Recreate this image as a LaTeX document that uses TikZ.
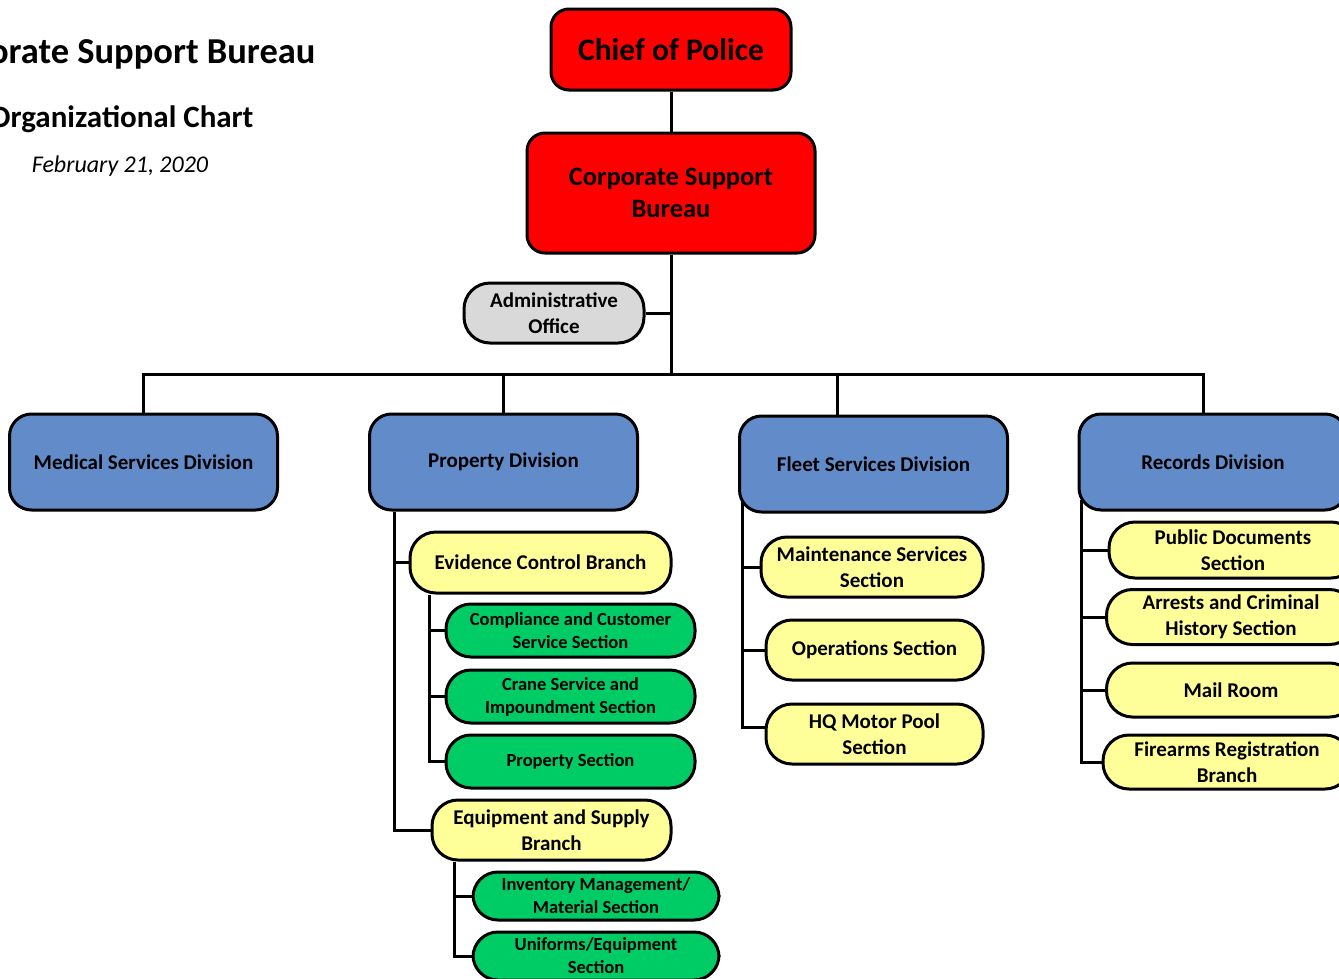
\documentclass[tikz,border=0pt]{standalone}
\usepackage{fontspec}
\setmainfont{Carlito}
\usetikzlibrary{positioning,calc}

\definecolor{chiefred}{RGB}{255,0,0}
\definecolor{divblue}{RGB}{98,139,202}
\definecolor{branchyellow}{RGB}{255,255,153}
\definecolor{sectgreen}{RGB}{0,204,102}
\definecolor{admingray}{RGB}{217,217,217}

\begin{document}
\begin{tikzpicture}[
    x=1pt, y=-1pt,
    every node/.style={font=\bfseries\fontsize{21}{25.5}\selectfont},
    box/.style={draw, line width=3pt, align=center, inner sep=0pt},
    topbox/.style={box, fill=chiefred, rounded corners=18pt},
    division/.style={box, fill=divblue, rounded corners=22pt, minimum width=268pt, minimum height=96pt},
    branch/.style={box, fill=branchyellow, rounded corners=26pt},
    section/.style={box, fill=sectgreen, rounded corners=25pt, minimum width=249pt, minimum height=53pt,
        font=\bfseries\fontsize{18.5}{23}\selectfont},
    conn/.style={line width=3pt},
]
\useasboundingbox (0,0) rectangle (1339,978);
\clip (0,0) rectangle (1339,978);

% Title block (top left, cut by the page edge)
\node[anchor=east, font=\bfseries\fontsize{36.5}{42}\selectfont] (title) at (319,54) {Corporate Support Bureau};
\node[anchor=east, font=\bfseries\fontsize{31}{36}\selectfont] (subtitle) at (257,119) {Organizational Chart};
\node[font=\itshape\fontsize{24}{28}\selectfont] (date) at (120,166) {February 21, 2020};

% Top of the chart
\node[topbox, minimum width=240pt, minimum height=81pt, font=\bfseries\fontsize{31.5}{38}\selectfont] (chief) at (671,49.5) {Chief of Police};
\node[topbox, minimum width=288pt, minimum height=120pt, font=\bfseries\fontsize{26.5}{32}\selectfont] (csb) at (671,193) {Corporate Support\\Bureau};
\draw[conn] (chief) -- (csb);

\node[box, fill=admingray, rounded corners=26pt, minimum width=180pt, minimum height=60pt] (admin) at (554,313) {Administrative\\Office};
\coordinate (bus) at (671,374);
\draw[conn] (csb) -- (bus);
\draw[conn] (admin.east) -- (admin.east -| bus);

% Divisions
\node[division] (medical) at (143.5,462) {Medical Services Division};
\node[division] (property) at (503.5,462) {Property Division};
\node[division] (fleet) at (873.5,464) {Fleet Services Division};
\node[division] (records) at (1213,462) {Records Division};

\draw[conn] (medical.north) |- (bus) -| ([xshift=-10pt]records.north);
\draw[conn] (property.north) -- (property.north |- bus);
\draw[conn] ([xshift=-36pt]fleet.north) -- ([xshift=-36pt]fleet.north |- bus);

% Property Division
\node[branch, minimum width=261pt, minimum height=61pt] (evidence) at (540.5,562.5) {Evidence Control Branch};
\node[section] (compliance) at (570.5,630.5) {Compliance and Customer\\Service Section};
\node[section] (crane) at (570.5,696.5) {Crane Service and\\Impoundment Section};
\node[section] (propsec) at (570.5,761.5) {Property Section};
\node[branch, minimum width=239pt, minimum height=60pt] (equip) at (551.5,830) {Equipment and Supply\\Branch};
\node[section, minimum width=246pt, minimum height=48pt] (inventory) at (596,896) {Inventory Management/\\Material Section};
\node[section, minimum width=246pt, minimum height=48pt] (uniforms) at (596,956) {Uniforms/Equipment\\Section};

\draw[conn] ([xshift=26pt]property.south west) |- (equip.west);
\draw[conn] (evidence.west) -- ++(-14,0);
\draw[conn] ([xshift=21pt]evidence.south west) |- (propsec.west);
\draw[conn] (compliance.west) -- ++(-15,0);
\draw[conn] (crane.west) -- ++(-15,0);
\draw[conn] ([xshift=24pt]equip.south west) |- (uniforms.west);
\draw[conn] (inventory.west) -- ++(-17,0);

% Fleet Services Division
\node[branch, minimum width=222pt, minimum height=60pt] (maint) at (872,567) {Maintenance Services\\Section};
\node[branch, minimum width=217pt, minimum height=60pt] (ops) at (874.5,650) {Operations Section};
\node[branch, minimum width=217pt, minimum height=60pt] (hqpool) at (874.5,734) {HQ Motor Pool\\Section};

\draw[conn] ([xshift=4pt,yshift=12pt]fleet.south west) |- ([yshift=7pt]hqpool.west);
\draw[conn] (maint.west) -- ++(-17,0);
\draw[conn] (ops.west) -- ++(-22,0);

% Records Division
\node[branch, minimum width=248pt, minimum height=56pt] (pubdocs) at (1233,550) {Public Documents\\Section};
\node[branch, minimum width=249pt, minimum height=55pt] (arrests) at (1231,617) {Arrests and Criminal\\History Section};
\node[branch, minimum width=249pt, minimum height=54pt] (mail) at (1231,690) {Mail Room};
\node[branch, minimum width=248pt, minimum height=54pt] (firearms) at (1227,762) {Firearms Registration\\Branch};

\draw[conn] ([xshift=4pt,yshift=12pt]records.south west) |- (firearms.west);
\draw[conn] (pubdocs.west) -- ++(-26,0);
\draw[conn] (arrests.west) -- ++(-23,0);
\draw[conn] (mail.west) -- ++(-23,0);

\end{tikzpicture}
\end{document}
